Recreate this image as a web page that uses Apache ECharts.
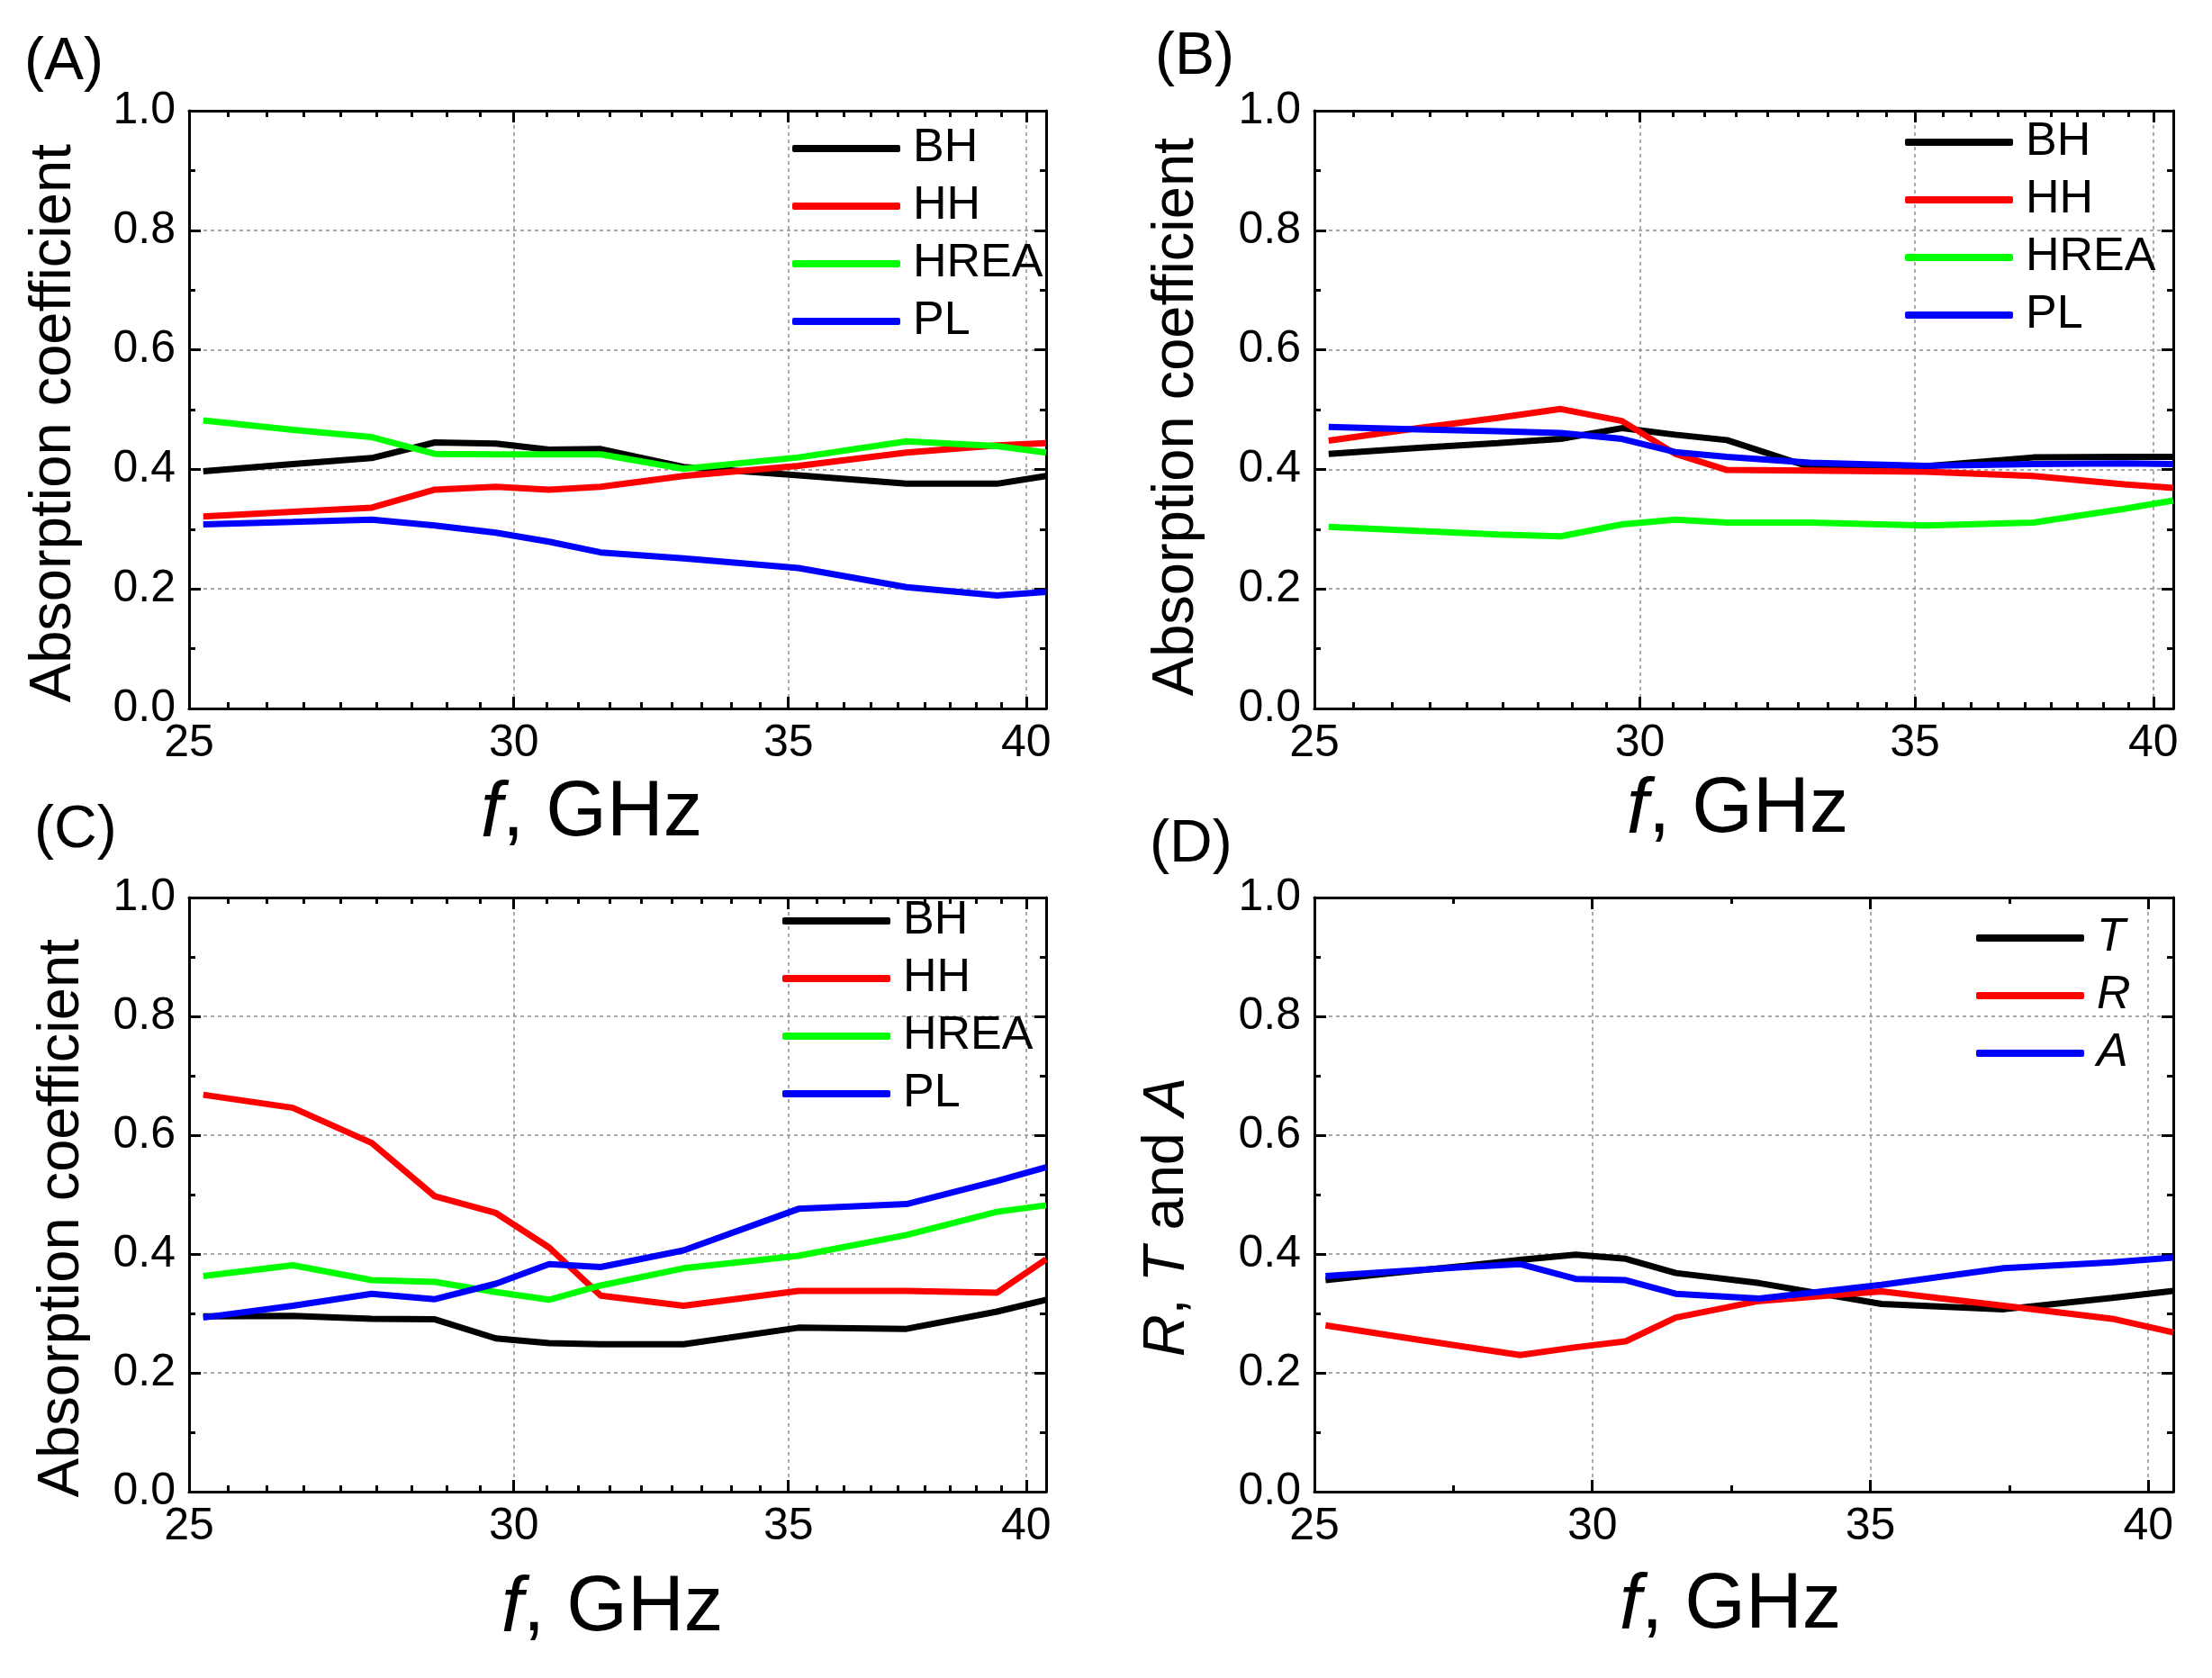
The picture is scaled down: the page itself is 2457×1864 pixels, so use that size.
<!DOCTYPE html>
<html>
<head>
<meta charset="utf-8">
<title>Absorption coefficient vs frequency</title>
<script src="https://cdn.jsdelivr.net/npm/echarts@6/dist/echarts.min.js"></script>
<style>
  html, body { margin: 0; padding: 0; background: #fff; }
  #chart { width: 2457px; height: 1864px; }
</style>
</head>
<body>
<div id="chart"></div>
<script>
var FONT = 'Arial, "Liberation Sans", sans-serif';

// frequency points, GHz (shared by all four panels)
var freq = [25.2, 26.5, 27.7, 28.7, 29.7, 30.6, 31.5, 33.0, 35.2, 37.4, 39.35, 40.45];

// (A)
var bhA   = [0.397, 0.409, 0.419, 0.445, 0.443, 0.433, 0.434, 0.404, 0.390, 0.376, 0.376, 0.389];
var hhA   = [0.321, 0.329, 0.336, 0.366, 0.371, 0.366, 0.371, 0.389, 0.406, 0.428, 0.440, 0.444];
var hreaA = [0.482, 0.466, 0.454, 0.426, 0.425, 0.425, 0.425, 0.401, 0.420, 0.447, 0.439, 0.428];
var plA   = [0.308, 0.312, 0.316, 0.306, 0.294, 0.279, 0.261, 0.251, 0.235, 0.203, 0.189, 0.195];

// (B)
var bhB   = [0.426, 0.436, 0.444, 0.451, 0.469, 0.458, 0.449, 0.404, 0.405, 0.420, 0.421, 0.421];
var hhB   = [0.448, 0.469, 0.486, 0.501, 0.481, 0.426, 0.399, 0.398, 0.396, 0.389, 0.375, 0.369];
var hreaB = [0.304, 0.297, 0.291, 0.288, 0.308, 0.316, 0.311, 0.311, 0.306, 0.311, 0.334, 0.348];
var plB   = [0.471, 0.467, 0.464, 0.461, 0.451, 0.429, 0.421, 0.411, 0.406, 0.409, 0.410, 0.409];

// (C)
var bhC   = [0.295, 0.296, 0.291, 0.290, 0.258, 0.250, 0.248, 0.248, 0.276, 0.274, 0.303, 0.323];
var hhC   = [0.668, 0.646, 0.587, 0.497, 0.469, 0.411, 0.330, 0.313, 0.338, 0.338, 0.335, 0.391];
var hreaC = [0.363, 0.381, 0.356, 0.353, 0.336, 0.323, 0.347, 0.376, 0.397, 0.432, 0.471, 0.482];
var plC   = [0.293, 0.313, 0.333, 0.324, 0.350, 0.383, 0.378, 0.406, 0.476, 0.484, 0.523, 0.546];

// (D) transmission, reflection, absorption
var tD = [0.356, 0.369, 0.380, 0.390, 0.399, 0.392, 0.368, 0.351, 0.316, 0.307, 0.326, 0.338];
var rD = [0.280, 0.261, 0.244, 0.230, 0.243, 0.253, 0.293, 0.321, 0.337, 0.313, 0.291, 0.268];
var aD = [0.363, 0.371, 0.378, 0.383, 0.358, 0.356, 0.333, 0.325, 0.348, 0.376, 0.386, 0.394];

var xMajor = [25, 30, 35, 40];
var xMinorLog = [];
for (var k = 1; k <= 27; k++) { if (k % 9) xMinorLog.push(25 + k * 5 / 9); }
var xMinorLin = [27.5, 32.5, 37.5];

var BLACK = '#000000', RED = '#ff0000', GREEN = '#00ff00', BLUE = '#0000ff';

function pairs(ys) {
    return ys.map(function (y, i) { return [freq[i], y]; });
}

var panels = [
    {
        label: '(A)', labelPos: [27, 37],
        grid: { left: 210, top: 123, width: 952, height: 664 },
        xType: 'log', minor: xMinorLog,
        xGap: 74, xPad: [0, 58, 0, 0],
        yName: 'Absorption coefficient', yGap: 117, yPad: [0, 30, 0, 0],
        legendPos: [880, 139], italic: false,
        lines: [['BH', bhA, BLACK], ['HH', hhA, RED], ['HREA', hreaA, GREEN], ['PL', plA, BLUE]]
    },
    {
        label: '(B)', labelPos: [1283, 31],
        grid: { left: 1460, top: 123, width: 954, height: 664 },
        xType: 'log', minor: xMinorLog,
        xGap: 70, xPad: [0, 14, 0, 0],
        yName: 'Absorption coefficient', yGap: 120, yPad: [0, 16, 0, 0],
        legendPos: [2116, 132], italic: false,
        lines: [['BH', bhB, BLACK], ['HH', hhB, RED], ['HREA', hreaB, GREEN], ['PL', plB, BLUE]]
    },
    {
        label: '(C)', labelPos: [38, 890],
        grid: { left: 210, top: 997, width: 952, height: 660 },
        xType: 'log', minor: xMinorLog,
        xGap: 87, xPad: [0, 12, 0, 0],
        yName: 'Absorption coefficient', yGap: 108, yPad: [0, 52, 0, 0],
        legendPos: [869, 997], italic: false,
        lines: [['BH', bhC, BLACK], ['HH', hhC, RED], ['HREA', hreaC, GREEN], ['PL', plC, BLUE]]
    },
    {
        label: '(D)', labelPos: [1277, 906],
        grid: { left: 1460, top: 997, width: 954, height: 660 },
        xType: 'value', minor: xMinorLin,
        xGap: 84, xPad: [0, 30, 0, 0],
        yName: '{i|R}, {i|T} and {i|A}', yGap: 131, yPad: [0, 50, 0, 0],
        legendPos: [2195, 1016], italic: true,
        lines: [['T', tD, BLACK], ['R', rD, RED], ['A', aD, BLUE]]
    }
];

var axisLine = { show: true, onZero: false, lineStyle: { color: '#000', width: 3 } };
var tickStyle = { color: '#000', width: 3 };
var gridLine = { show: true, lineStyle: { color: '#8c8c8c', width: 1.5, type: [4, 4] } };

var grid = [], xAxis = [], yAxis = [], series = [], legend = [], title = [];

panels.forEach(function (p, gi) {
    grid.push(p.grid);

    title.push({
        text: p.label, left: p.labelPos[0], top: p.labelPos[1], padding: 0,
        textStyle: { fontFamily: FONT, fontSize: 66, fontWeight: 'normal', color: '#000' }
    });

    var base = { gridIndex: gi, type: p.xType, min: 25, max: 40.45 };
    if (p.xType === 'log') base.logBase = 10;

    // bottom: major ticks, labels, grid lines, title
    xAxis.push(Object.assign({}, base, {
        position: 'bottom',
        name: '{i|f}, GHz', nameLocation: 'middle', nameGap: p.xGap,
        nameTextStyle: {
            fontFamily: FONT, fontSize: 87, color: '#000', padding: p.xPad,
            rich: { i: { fontFamily: FONT, fontSize: 87, fontStyle: 'italic', color: '#000' } }
        },
        axisLine: axisLine,
        axisTick: { show: true, inside: true, length: 13, lineStyle: tickStyle, customValues: xMajor },
        axisLabel: {
            customValues: xMajor, fontFamily: FONT, fontSize: 50, color: '#000', margin: 14,
            formatter: function (v) { return String(Math.round(v)); }
        },
        splitLine: gridLine
    }));
    // bottom: minor ticks
    xAxis.push(Object.assign({}, base, {
        position: 'bottom',
        axisLine: { show: false, onZero: false },
        axisTick: { show: true, inside: true, length: 7, lineStyle: tickStyle, customValues: p.minor },
        axisLabel: { show: false },
        splitLine: { show: false }
    }));
    // top: mirrored major and minor ticks
    xAxis.push(Object.assign({}, base, {
        position: 'top',
        axisLine: axisLine,
        axisTick: { show: true, inside: true, length: 13, lineStyle: tickStyle, customValues: xMajor },
        axisLabel: { show: false },
        splitLine: { show: false }
    }));
    xAxis.push(Object.assign({}, base, {
        position: 'top',
        axisLine: { show: false, onZero: false },
        axisTick: { show: true, inside: true, length: 7, lineStyle: tickStyle, customValues: p.minor },
        axisLabel: { show: false },
        splitLine: { show: false }
    }));

    var yBase = {
        gridIndex: gi, type: 'value', min: 0, max: 1, interval: 0.2,
        axisLine: axisLine,
        axisTick: { show: true, inside: true, length: 13, lineStyle: tickStyle },
        minorTick: { show: true, splitNumber: 2, length: 7, lineStyle: tickStyle }
    };
    yAxis.push(Object.assign({}, yBase, {
        position: 'left',
        name: p.yName, nameLocation: 'middle', nameGap: p.yGap,
        nameTextStyle: {
            fontFamily: FONT, fontSize: 65, color: '#000', padding: p.yPad,
            rich: { i: { fontFamily: FONT, fontSize: 65, fontStyle: 'italic', color: '#000' } }
        },
        axisLabel: {
            fontFamily: FONT, fontSize: 50, color: '#000', margin: 15,
            formatter: function (v) { return v.toFixed(1); }
        },
        splitLine: gridLine
    }));
    yAxis.push(Object.assign({}, yBase, {
        position: 'right',
        axisLabel: { show: false },
        splitLine: { show: false }
    }));

    legend.push({
        data: p.lines.map(function (l) { return l[0]; }),
        orient: 'vertical', left: p.legendPos[0], top: p.legendPos[1], padding: 0,
        icon: 'roundRect', itemWidth: 120, itemHeight: 8, itemGap: 12,
        textStyle: {
            fontFamily: FONT, fontSize: 52, lineHeight: 52, color: '#000',
            fontStyle: p.italic ? 'italic' : 'normal', padding: [0, 0, 0, 9]
        }
    });

    p.lines.forEach(function (l) {
        series.push({
            name: l[0], type: 'line', xAxisIndex: gi * 4, yAxisIndex: gi * 2,
            data: pairs(l[1]), color: l[2], symbol: 'none',
            lineStyle: { width: 7, color: l[2] }
        });
    });
});

var chart = echarts.init(document.getElementById('chart'));
chart.setOption({
    animation: false,
    backgroundColor: '#ffffff',
    textStyle: { fontFamily: FONT },
    title: title,
    grid: grid,
    xAxis: xAxis,
    yAxis: yAxis,
    legend: legend,
    series: series
});
</script>
</body>
</html>
